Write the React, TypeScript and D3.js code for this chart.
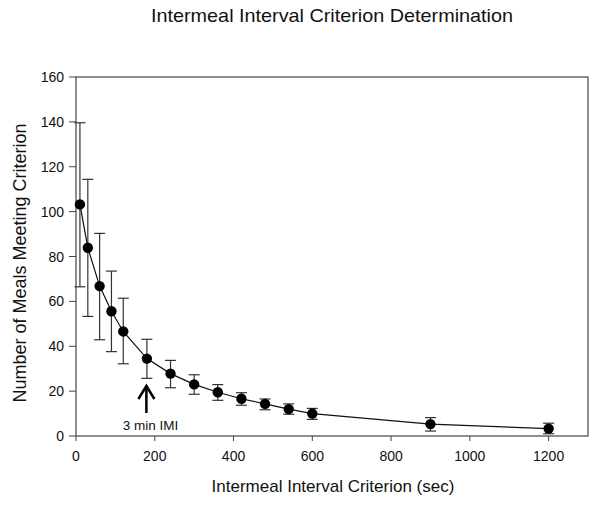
import React from "react";
import * as d3 from "d3";

const criterionSec = [10, 30, 60, 90, 120, 180, 240, 300, 360, 420, 480, 540, 600, 900, 1200];
const mealsMean = [103.2, 83.9, 66.8, 55.6, 46.6, 34.5, 27.8, 23.0, 19.5, 16.6, 14.3, 12.0, 10.0, 5.3, 3.3];
const errUpper = [139.6, 114.4, 90.3, 73.5, 61.4, 43.1, 33.7, 27.3, 22.9, 19.3, 16.5, 14.3, 12.3, 8.2, 5.7];
const errLower = [66.5, 53.3, 42.9, 37.6, 32.2, 25.7, 21.5, 18.6, 15.9, 13.7, 11.7, 9.7, 7.4, 2.2, 1.0];
const xTicks = [0, 200, 400, 600, 800, 1000, 1200];
const yTicks = [0, 20, 40, 60, 80, 100, 120, 140, 160];
const annotation = { x: 180, label: "3 min IMI" };

const W = 600, H = 505;
const L = 76, R = 588, T = 77, B = 436;
const FONT = "'Liberation Sans', Arial, sans-serif";

export default function App() {
  const x = d3.scaleLinear().domain([0, 1300]).range([L, R]);
  const y = d3.scaleLinear().domain([0, 160]).range([B, T]);
  const pts = criterionSec.map((s, i) => ({ s, m: mealsMean[i], u: errUpper[i], l: errLower[i] }));
  const line = d3.line<any>().x((d) => x(d.s)).y((d) => y(d.m));
  const ax = x(annotation.x) - 0.5;
  const tipY = 385;
  const capW = 5.5;
  return (
    <svg width={W} height={H} style={{ position: "absolute", left: 0, top: 0, background: "#fff" }} fontFamily={FONT}>
      <rect x={0} y={0} width={W} height={H} fill="#fff" />
      <text x={332} y={22} textAnchor="middle" fontSize={18.5} fill="#111" textLength={362} lengthAdjust="spacingAndGlyphs">Intermeal Interval Criterion Determination</text>
      <rect x={L} y={T} width={R - L} height={B - T} fill="none" stroke="#444" strokeWidth={1.2} />
      {yTicks.map((t) => (
        <g key={"y" + t}>
          <line x1={L - 7} x2={L} y1={y(t)} y2={y(t)} stroke="#444" />
          <text x={L - 12} y={y(t) + 5} textAnchor="end" fontSize={14} fill="#111">{t}</text>
        </g>
      ))}
      {xTicks.map((t) => (
        <g key={"x" + t}>
          <line x1={x(t)} x2={x(t)} y1={B} y2={B + 5} stroke="#444" />
          <text x={x(t)} y={461} textAnchor="middle" fontSize={14} fill="#111">{t}</text>
        </g>
      ))}
      <text x={333} y={492} textAnchor="middle" fontSize={17} fill="#111">Intermeal Interval Criterion (sec)</text>
      <text transform={`translate(26,263) rotate(-90)`} textAnchor="middle" fontSize={18} fill="#111">Number of Meals Meeting Criterion</text>
      {pts.map((p, i) => (
        <g key={"e" + i} stroke="#333" strokeWidth={1.2}>
          <line x1={x(p.s)} x2={x(p.s)} y1={y(p.u)} y2={y(p.l)} />
          <line x1={x(p.s) - capW} x2={x(p.s) + capW} y1={y(p.u)} y2={y(p.u)} />
          <line x1={x(p.s) - capW} x2={x(p.s) + capW} y1={y(p.l)} y2={y(p.l)} />
        </g>
      ))}
      <path d={line(pts) || ""} fill="none" stroke="#111" strokeWidth={1.2} />
      {pts.map((p, i) => (
        <circle key={"c" + i} cx={x(p.s)} cy={y(p.m)} r={5.2} fill="#000" />
      ))}
      <g stroke="#000" strokeWidth={2.5} fill="none">
        <line x1={ax} x2={ax} y1={tipY + 1} y2={413} />
        <polyline points={`${ax - 8},${tipY + 14} ${ax},${tipY + 1} ${ax + 8},${tipY + 14}`} />
      </g>
      <text x={150.5} y={430} textAnchor="middle" fontSize={13.5} fill="#111">{annotation.label}</text>
    </svg>
  );
}
